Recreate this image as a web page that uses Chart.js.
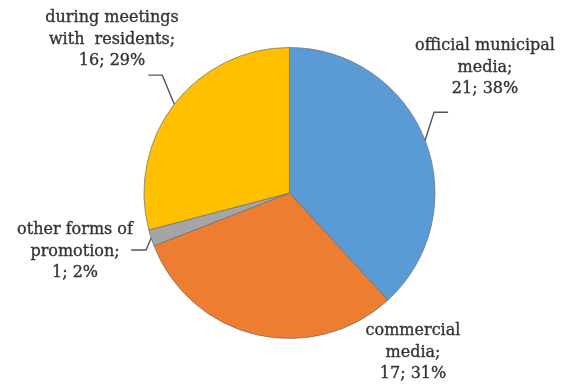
<!DOCTYPE html>
<html>
<head>
<meta charset="utf-8">
<script src="https://cdn.jsdelivr.net/npm/chart.js@4"></script>
<style>
  html, body { margin: 0; padding: 0; background: #fff; }
  #wrap { width: 567px; height: 385px; position: relative; }
</style>
</head>
<body>
<div id="wrap"><canvas id="pieChart"></canvas></div>
<script>
// Channels used to promote the project
const categories = ['official municipal media', 'commercial media', 'other forms of promotion', 'during meetings with residents'];
const counts = [21, 17, 1, 16];
const sliceColors = ['#5B9BD5', '#ED7D31', '#A5A5A5', '#FFC000'];

// how each category name is broken over lines in its label
const labelLines = [
    ['official municipal', 'media;'],
    ['commercial', 'media;'],
    ['other forms of', 'promotion;'],
    ['during meetings', 'with  residents;']
];

// label block centre (x, first line y) and leader line bends relative to the slice edge
const labelLayout = [
    { x: 485, y: 46, leader: [[9, -28], [23, -28]] },
    { x: 413, y: 331, leader: null },
    { x: 75, y: 230, leader: [[-5, 12], [-20, 12]] },
    { x: 112, y: 18, leader: [[-12, -29], [-26, -29]] }
];

const total = counts.reduce((a, b) => a + b, 0);

const calloutPlugin = {
    id: 'callouts',
    afterDraw(chart) {
        const ctx = chart.ctx;
        const meta = chart.getDatasetMeta(0);
        ctx.save();
        meta.data.forEach((arc, i) => {
            const p = arc.getProps(['x', 'y', 'startAngle', 'endAngle', 'outerRadius'], true);
            const mid = (p.startAngle + p.endAngle) / 2;
            const ex = p.x + Math.cos(mid) * p.outerRadius;
            const ey = p.y + Math.sin(mid) * p.outerRadius;
            const lay = labelLayout[i];

            if (lay.leader) {
                ctx.strokeStyle = '#555';
                ctx.lineWidth = 1.4;
                ctx.beginPath();
                ctx.moveTo(ex, ey);
                lay.leader.forEach(([dx, dy]) => ctx.lineTo(ex + dx, ey + dy));
                ctx.stroke();
            }

            const pct = Math.round(counts[i] / total * 100);
            const lines = labelLines[i].concat([counts[i] + '; ' + pct + '%']);
            ctx.fillStyle = '#333';
            ctx.strokeStyle = '#333';
            ctx.lineWidth = 0.35;
            ctx.font = '16px "DejaVu Serif", serif';
            ctx.textAlign = 'center';
            ctx.textBaseline = 'middle';
            lines.forEach((t, k) => {
                ctx.fillText(t, lay.x, lay.y + k * 21.5);
                ctx.strokeText(t, lay.x, lay.y + k * 21.5);
            });
        });
        ctx.restore();
    }
};

new Chart(document.getElementById('pieChart'), {
    type: 'pie',
    data: {
        labels: categories,
        datasets: [{
            data: counts,
            backgroundColor: sliceColors,
            borderColor: 'rgba(110,110,110,0.7)',
            borderWidth: 1
        }]
    },
    options: {
        responsive: true,
        maintainAspectRatio: false,
        animation: false,
        layout: { padding: { top: 47, bottom: 46, left: 60, right: 48 } },
        plugins: {
            legend: { display: false },
            tooltip: { enabled: false }
        }
    },
    plugins: [calloutPlugin]
});
</script>
</body>
</html>
